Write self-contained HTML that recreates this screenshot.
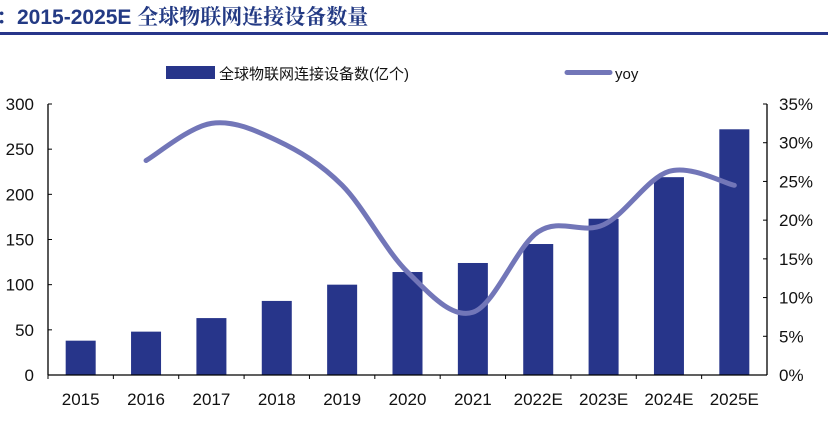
<!DOCTYPE html>
<html><head><meta charset="utf-8"><style>
body{margin:0;width:828px;height:421px;background:#fff;overflow:hidden;font-family:"Liberation Sans","Noto Sans CJK SC",sans-serif;}
svg{position:absolute;left:0;top:0}
</style></head><body>
<svg width="828" height="421">
<text x="-4" y="24" font-size="21" font-weight="bold" fill="#233a84" font-family="Liberation Sans,Noto Serif CJK SC,sans-serif">：2015-2025E 全球物联网连接设备数量</text>
<rect x="0" y="32" width="828" height="3" fill="#27358a"/>
<g>
<rect x="166" y="66" width="49" height="13" fill="#27358a"/>
<text x="219" y="79" font-size="15" fill="#111">全球物联网连接设备数(亿个)</text>
<line x1="567" y1="72.5" x2="610" y2="72.5" stroke="#7276b8" stroke-width="5" stroke-linecap="round"/>
<text x="615" y="79" font-size="15" fill="#111">yoy</text>
</g>
<g id="plot"></g>
</svg>
<script>
const categories=["2015","2016","2017","2018","2019","2020","2021","2022E","2023E","2024E","2025E"];
const devices=[38,48,63,82,100,114,124,145,173,219,272];
const yoy=[null,27.7,32.5,30.3,24.5,13.3,8.1,18.5,19.4,26.3,24.5];
const leftTicks=[0,50,100,150,200,250,300];
const rightTicks=[0,5,10,15,20,25,30,35];
const X0=48,X1=767,Y0=375,Y1=104;
const step=(X1-X0)/categories.length;
const xc=i=>X0+step*(i+0.5);
const yl=v=>Y0-(v/300)*(Y0-Y1);
const yr=v=>Y0-(v/35)*(Y0-Y1);
const g=document.getElementById('plot');
const NS="http://www.w3.org/2000/svg";
function mk(t,a){const e=document.createElementNS(NS,t);for(const k in a)e.setAttribute(k,a[k]);g.appendChild(e);return e;}
devices.forEach((v,i)=>{const r=mk('rect',{x:xc(i)-15,y:yl(v),width:30,height:Y0-yl(v),fill:'#27358a'});

});
// axes
let a=mk('line',{x1:X0,y1:Y1,x2:X0,y2:Y0,stroke:'#000','stroke-width':1.3});


a=mk('line',{x1:X1,y1:Y1,x2:X1,y2:Y0,stroke:'#000','stroke-width':1.3});


a=mk('line',{x1:X0,y1:Y0,x2:X1,y2:Y0,stroke:'#000','stroke-width':1.3});


leftTicks.forEach(v=>{mk('line',{x1:X0,y1:yl(v),x2:X0+4,y2:yl(v),stroke:'#000'});
const t=mk('text',{x:X0-14,y:yl(v)+6,'font-size':17,'text-anchor':'end',fill:'#111'});t.textContent=v;

});
rightTicks.forEach(v=>{mk('line',{x1:X1-4,y1:yr(v),x2:X1,y2:yr(v),stroke:'#000'});
const t=mk('text',{x:X1+12,y:yr(v)+6,'font-size':17,fill:'#111'});t.textContent=v+'%';

});
categories.forEach((c,i)=>{mk('line',{x1:X0+step*i,y1:Y0,x2:X0+step*i,y2:Y0+4,stroke:'#000'});
const t=mk('text',{x:xc(i),y:405,'font-size':17,'text-anchor':'middle',fill:'#111'});t.textContent=c;

});
// smooth yoy line
const pts=[];yoy.forEach((v,i)=>{if(v!==null)pts.push([xc(i),yr(v)]);});
let d='M'+pts[0][0]+','+pts[0][1];
for(let i=0;i<pts.length-1;i++){const p0=pts[i-1]||pts[i],p1=pts[i],p2=pts[i+1],p3=pts[i+2]||p2;
const c1=[p1[0]+(p2[0]-p0[0])/6,p1[1]+(p2[1]-p0[1])/6],c2=[p2[0]-(p3[0]-p1[0])/6,p2[1]-(p3[1]-p1[1])/6];
d+=` C${c1[0]},${c1[1]} ${c2[0]},${c2[1]} ${p2[0]},${p2[1]}`;}
const l=mk('path',{d:d,fill:'none',stroke:'#7276b8','stroke-width':5,'stroke-linecap':'round'});


</script>
</body></html>
